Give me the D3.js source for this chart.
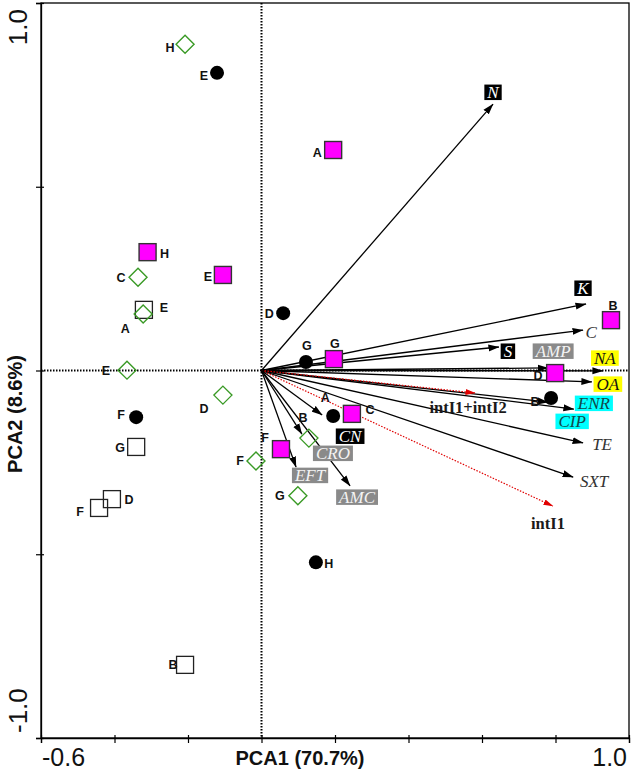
<!DOCTYPE html>
<html>
<head>
<meta charset="utf-8">
<script src="https://cdn.jsdelivr.net/npm/d3@7"></script>
<style>
  html, body { margin: 0; padding: 0; background: #fff; }
  svg { display: block; }
</style>
</head>
<body>
<svg id="chart" width="632" height="774"></svg>
<script>
// ---------------- DATA ----------------
const xTicks = [-0.6, -0.4, -0.2, 0, 0.2, 0.4, 0.6, 0.8, 1.0];
const yTicks = [-1.0, -0.5, 0, 0.5, 1.0];
const xTickLabels = ["-0.6", "1.0"];
const yTickLabels = ["-1.0", "1.0"];
const xTitle = "PCA1 (70.7%)";
const yTitle = "PCA2 (8.6%)";

// filled magenta squares
const magentaSites = ["A", "H", "E", "G", "B", "D", "C", "F"];
const magentaPC1 = [0.195, -0.310, -0.105, 0.197, 0.951, 0.799, 0.246, 0.053];
const magentaPC2 = [0.600, 0.322, 0.260, 0.031, 0.137, -0.007, -0.118, -0.214];

// filled black circles
const circleSites = ["E", "D", "G", "A", "B", "F", "H"];
const circlePC1 = [-0.121, 0.059, 0.121, 0.195, 0.788, -0.341, 0.148];
const circlePC2 = [0.810, 0.156, 0.023, -0.124, -0.075, -0.127, -0.522];

// open green diamonds
const diamondSites = ["H", "C", "A", "E", "D", "B", "F", "G"];
const diamondPC1 = [-0.208, -0.336, -0.322, -0.366, -0.105, 0.129, -0.015, 0.099];
const diamondPC2 = [0.888, 0.254, 0.154, 0.001, -0.067, -0.184, -0.246, -0.341];

// open black squares
const openSites = ["E", "G", "D", "F", "B"];
const openPC1 = [-0.320, -0.341, -0.407, -0.442, -0.208];
const openPC2 = [0.165, -0.208, -0.350, -0.374, -0.801];

// variable vectors
const variables = ["N", "K", "C", "S", "AMP", "NA", "OA", "ENR", "CIP", "TE", "SXT", "intI1", "intI1+intI2", "CN", "CRO", "EFT", "AMC"];
const varPC1 = [0.630, 0.883, 0.875, 0.646, 0.780, 0.929, 0.899, 0.850, 0.780, 0.875, 0.848, 0.793, 0.581, 0.165, 0.110, 0.094, 0.241];
const varPC2 = [0.725, 0.181, 0.110, 0.064, 0.007, -0.001, -0.031, -0.105, -0.086, -0.197, -0.290, -0.369, -0.061, -0.121, -0.173, -0.263, -0.314];
const varGroup = ["black", "black", "plain", "black", "gray", "yellow", "yellow", "cyan", "cyan", "plain", "plain", "gene", "gene", "black", "gray", "gray", "gray"];

// ---------------- LAYOUT ----------------
const svg = d3.select("#chart");
const x = d3.scaleLinear().domain([-0.6, 1.0]).range([41, 629]);
const y = d3.scaleLinear().domain([-1.0, 1.0]).range([738, 3]);

// label offsets (pixels, centre of label relative to mark)
const ptLabelOff = {
  magenta: {A: [-16, 2], H: [17, 1], E: [-15, 2], G: [1, -16], B: [2, -15], D: [-17, 2], C: [18, -4], F: [-16, -12]},
  circle:  {E: [-13, 3], D: [-14, 0], G: [1, -17], A: [-8, -19], B: [-16, 3], F: [-15, -3], H: [13, 1]},
  diamond: {H: [-15, 3], C: [-17, 0], A: [-18, 15], E: [-21, 0], D: [-19, 13], B: [-6, -21], F: [-16, 0], G: [-18, 0]},
  open:    {E: [20, -2], G: [-16, 1], D: [17, 0], F: [-19, 4], B: [-12, 0]}
};
const varLabelOff = {
  "N": [0, -12], "K": [-3, -16], "C": [8, 2], "S": [9, 4], "AMP": [5, -17], "NA": [2, -13],
  "OA": [16, 2], "ENR": [20, -6], "CIP": [24, 19], "TE": [19, 1], "SXT": [21, 4],
  "intI1": [-5, 17], "intI1+intI2": [-7, 15], "CN": [28, 21], "CRO": [31, 19], "EFT": [14, 8], "AMC": [7, 11]
};

// markers
const defs = svg.append("defs");
defs.append("marker").attr("id", "arrowBlack")
  .attr("markerUnits", "userSpaceOnUse").attr("viewBox", "0 0 11 8")
  .attr("markerWidth", 11).attr("markerHeight", 8).attr("refX", 10.5).attr("refY", 4)
  .attr("orient", "auto")
  .append("path").attr("d", "M0,0.5 L11,4 L0,7.5 Z").attr("fill", "#000");
defs.append("marker").attr("id", "arrowRed")
  .attr("markerUnits", "userSpaceOnUse").attr("viewBox", "0 0 10 7")
  .attr("markerWidth", 10).attr("markerHeight", 7).attr("refX", 9.5).attr("refY", 3.5)
  .attr("orient", "auto")
  .append("path").attr("d", "M0,0.5 L10,3.5 L0,6.5 Z").attr("fill", "#e00000");

// zero reference lines (dotted)
svg.append("line").attr("x1", x(0)).attr("x2", x(0)).attr("y1", y(1)).attr("y2", y(-1))
  .attr("stroke", "#000").attr("stroke-width", 2).attr("stroke-dasharray", "1.5,1.5");
svg.append("line").attr("x1", x(-0.6)).attr("x2", x(1.0)).attr("y1", y(0)).attr("y2", y(0))
  .attr("stroke", "#000").attr("stroke-width", 2).attr("stroke-dasharray", "1.5,1.5");

// frame
svg.append("rect").attr("x", x(-0.6)).attr("y", y(1)).attr("width", x(1) - x(-0.6)).attr("height", y(-1) - y(1))
  .attr("fill", "none").attr("stroke", "#000").attr("stroke-width", 1.3);

// axes
const xAxis = svg.append("g").attr("transform", `translate(0,${y(-1)})`)
  .call(d3.axisBottom(x).tickValues(xTicks).tickSize(5).tickFormat(""));
xAxis.select(".domain").attr("stroke-width", 1.3);
xAxis.selectAll(".tick line").attr("y1", -3).attr("stroke-width", 1.2);
const yAxis = svg.append("g").attr("transform", `translate(${x(-0.6)},0)`)
  .call(d3.axisLeft(y).tickValues(yTicks).tickSize(5).tickFormat(""));
yAxis.select(".domain").attr("stroke-width", 1.3);
yAxis.selectAll(".tick line").attr("x1", 3).attr("stroke-width", 1.2);

const tickFont = "'Liberation Sans', Arial, sans-serif";
svg.append("text").attr("x", x(-0.6) + 1).attr("y", 766).attr("font-family", tickFont)
  .attr("font-size", 25).attr("text-anchor", "start").attr("fill", "#111").text(xTickLabels[0]);
svg.append("text").attr("x", x(1.0) - 2).attr("y", 766).attr("font-family", tickFont)
  .attr("font-size", 25).attr("text-anchor", "end").attr("fill", "#111").text(xTickLabels[1]);
svg.append("text").attr("transform", `translate(27,${y(-1) - 5}) rotate(-90)`).attr("font-family", tickFont)
  .attr("font-size", 26).attr("text-anchor", "start").attr("fill", "#111").text(yTickLabels[0]);
svg.append("text").attr("transform", `translate(27,${y(1) + 6}) rotate(-90)`).attr("font-family", tickFont)
  .attr("font-size", 26).attr("text-anchor", "end").attr("fill", "#111").text(yTickLabels[1]);

svg.append("text").attr("x", 300).attr("y", 765).attr("font-family", tickFont).attr("font-weight", "bold")
  .attr("font-size", 20).attr("text-anchor", "middle").attr("fill", "#111").text(xTitle);
svg.append("text").attr("transform", "translate(22,414) rotate(-90)").attr("font-family", tickFont).attr("font-weight", "bold")
  .attr("font-size", 20).attr("text-anchor", "middle").attr("fill", "#111").text(yTitle);

// ---------------- VECTORS ----------------
const vecData = variables.map((v, i) => ({name: v, pc1: varPC1[i], pc2: varPC2[i], group: varGroup[i]}));
const vecG = svg.append("g");
vecG.selectAll("line").data(vecData).join("line")
  .attr("x1", x(0)).attr("y1", y(0))
  .attr("x2", d => x(d.pc1)).attr("y2", d => y(d.pc2))
  .attr("stroke", d => d.group === "gene" ? "#e00000" : "#000")
  .attr("stroke-width", d => d.group === "gene" ? 1.2 : 1.3)
  .attr("stroke-dasharray", d => d.group === "gene" ? "1.5,1.5" : null)
  .attr("marker-end", d => d.group === "gene" ? "url(#arrowRed)" : "url(#arrowBlack)");

const serif = "'Liberation Serif', 'Times New Roman', serif";
const boxStyle = {
  black:  {bg: "#000", fg: "#fff"},
  gray:   {bg: "#8a8a8a", fg: "#f4f4f4"},
  yellow: {bg: "#ffff00", fg: "#111"},
  cyan:   {bg: "#00ffff", fg: "#124848"}
};
const labG = svg.append("g");
vecData.forEach(d => {
  const off = varLabelOff[d.name];
  const cx = x(d.pc1) + off[0], cy = y(d.pc2) + off[1];
  const g = labG.append("g");
  if (d.group === "gene") {
    g.append("text").attr("x", cx).attr("y", cy + 5.5).attr("text-anchor", "middle")
      .attr("font-family", serif).attr("font-weight", "bold").attr("font-size", 16.5).attr("fill", "#1a1a1a").text(d.name);
  } else if (d.group === "plain") {
    g.append("text").attr("x", cx).attr("y", cy + 6).attr("text-anchor", "middle")
      .attr("font-family", serif).attr("font-style", "italic").attr("font-size", 17).attr("fill", "#333").text(d.name);
  } else {
    const st = boxStyle[d.group];
    const rect = g.append("rect");
    const t = g.append("text").attr("x", cx).attr("y", cy + 6).attr("text-anchor", "middle")
      .attr("font-family", serif).attr("font-style", "italic").attr("font-size", 17).attr("fill", st.fg).text(d.name);
    const w = t.node().getComputedTextLength();
    rect.attr("x", cx - w / 2 - 3).attr("y", cy - 7.5).attr("width", w + 6).attr("height", 15.5).attr("fill", st.bg);
  }
});

// ---------------- POINTS ----------------
const ptFont = "'Liberation Sans Narrow', 'Arial Narrow', 'Liberation Sans', Arial, sans-serif";
function addLabels(series, sites, pc1, pc2) {
  const g = svg.append("g");
  sites.forEach((s, i) => {
    const off = ptLabelOff[series][s];
    g.append("text").attr("x", x(pc1[i]) + off[0]).attr("y", y(pc2[i]) + off[1] + 4.5)
      .attr("text-anchor", "middle").attr("font-family", ptFont).attr("font-weight", "bold")
      .attr("font-size", 12.5).attr("fill", "#111").text(s);
  });
}
const idx = a => a.map((_, i) => i);

// open squares
svg.append("g").selectAll("rect").data(idx(openSites)).join("rect")
  .attr("x", i => x(openPC1[i]) - 8.5).attr("y", i => y(openPC2[i]) - 8.5)
  .attr("width", 17).attr("height", 17).attr("fill", "none").attr("stroke", "#222").attr("stroke-width", 1.3);
// diamonds
svg.append("g").selectAll("path").data(idx(diamondSites)).join("path")
  .attr("d", i => { const cx = x(diamondPC1[i]), cy = y(diamondPC2[i]), r = 9;
    return `M${cx},${cy - r}L${cx + r},${cy}L${cx},${cy + r}L${cx - r},${cy}Z`; })
  .attr("fill", "none").attr("stroke", "#3a9a26").attr("stroke-width", 1.4);
// circles
svg.append("g").selectAll("circle").data(idx(circleSites)).join("circle")
  .attr("cx", i => x(circlePC1[i])).attr("cy", i => y(circlePC2[i])).attr("r", 7).attr("fill", "#000");
// magenta squares
svg.append("g").selectAll("rect").data(idx(magentaSites)).join("rect")
  .attr("x", i => x(magentaPC1[i]) - 8.5).attr("y", i => y(magentaPC2[i]) - 8.5)
  .attr("width", 17).attr("height", 17).attr("fill", "#ff00ff").attr("stroke", "#333").attr("stroke-width", 1.4);

addLabels("open", openSites, openPC1, openPC2);
addLabels("diamond", diamondSites, diamondPC1, diamondPC2);
addLabels("circle", circleSites, circlePC1, circlePC2);
addLabels("magenta", magentaSites, magentaPC1, magentaPC2);
</script>
</body>
</html>
